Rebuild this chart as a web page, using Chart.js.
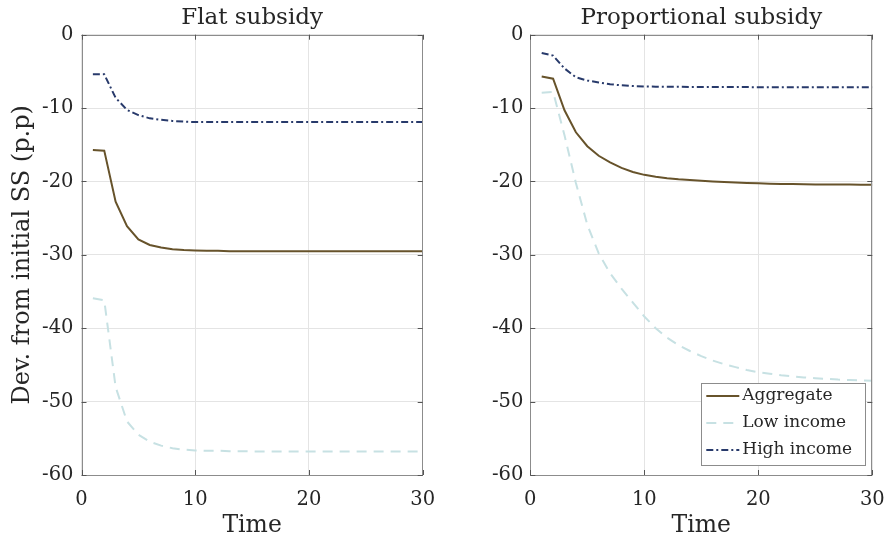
<!DOCTYPE html>
<html><head><meta charset="utf-8">
<script src="https://cdn.jsdelivr.net/npm/chart.js@4.4.0/dist/chart.umd.min.js"></script>
<style>
html,body{margin:0;padding:0;background:#fff;}
#wrap{position:relative;width:886px;height:540px;overflow:hidden;}
.box{position:absolute;top:0;height:540px;}
</style></head><body>
<div id="wrap">
<div class="box" style="left:0;width:450px"><canvas id="c1" width="450" height="540"></canvas></div>
<div class="box" style="left:450px;width:436px"><canvas id="c2" width="436" height="540"></canvas></div>
</div>
<script>
// ---- data ----
const time = [1,2,3,4,5,6,7,8,9,10,11,12,13,14,15,16,17,18,19,20,21,22,23,24,25,26,27,28,29,30];
const seriesNames = ["Aggregate", "Low income", "High income"];
const panelTitles = ["Flat subsidy", "Proportional subsidy"];
const xTicks = [0, 10, 20, 30];
const yTicks = [0, -10, -20, -30, -40, -50, -60];

const flatAggregate = [-15.7,-15.8,-22.75,-26.1,-27.9,-28.65,-29.0,-29.25,-29.35,-29.4,-29.45,-29.45,-29.5,-29.5,-29.5,-29.5,-29.5,-29.5,-29.5,-29.5,-29.5,-29.5,-29.5,-29.5,-29.5,-29.5,-29.5,-29.5,-29.5,-29.5];
const flatLow = [-35.9,-36.2,-48.0,-52.7,-54.5,-55.45,-56.0,-56.35,-56.55,-56.65,-56.7,-56.7,-56.75,-56.75,-56.8,-56.8,-56.8,-56.8,-56.8,-56.8,-56.8,-56.8,-56.8,-56.8,-56.8,-56.8,-56.8,-56.8,-56.8,-56.8];
const flatHigh = [-5.4,-5.4,-8.6,-10.25,-10.95,-11.4,-11.6,-11.75,-11.85,-11.9,-11.9,-11.9,-11.9,-11.9,-11.9,-11.9,-11.9,-11.9,-11.9,-11.9,-11.9,-11.9,-11.9,-11.9,-11.9,-11.9,-11.9,-11.9,-11.9,-11.9];

const propAggregate = [-5.7,-6.0,-10.3,-13.3,-15.2,-16.5,-17.4,-18.15,-18.7,-19.1,-19.35,-19.55,-19.7,-19.8,-19.9,-20.0,-20.08,-20.15,-20.2,-20.25,-20.3,-20.33,-20.36,-20.38,-20.4,-20.41,-20.42,-20.43,-20.44,-20.45];
const propLow = [-7.9,-7.8,-13.7,-20.2,-25.9,-29.8,-32.5,-34.6,-36.5,-38.4,-40.0,-41.3,-42.3,-43.1,-43.8,-44.4,-44.9,-45.3,-45.7,-46.0,-46.2,-46.4,-46.55,-46.7,-46.8,-46.9,-47.0,-47.05,-47.1,-47.15];
const propHigh = [-2.5,-2.85,-4.6,-5.8,-6.25,-6.5,-6.75,-6.9,-7.0,-7.05,-7.08,-7.1,-7.1,-7.12,-7.12,-7.13,-7.13,-7.14,-7.14,-7.15,-7.15,-7.15,-7.15,-7.15,-7.15,-7.15,-7.15,-7.15,-7.15,-7.15];

// ---- styles ----
const FONT = "'DejaVu Serif', serif";
const colAgg = '#67532b', colLow = '#c7e1e3', colHigh = '#283a6b';
const axisCol = '#8c8c8c', gridCol = '#e4e4e4', textCol = '#262626';

function pts(vals){ return time.map((t,i)=>({x:t, y:vals[i]})); }
function datasets(a,l,h){
  return [
    {label:seriesNames[0], data:pts(a), borderColor:colAgg, borderWidth:2, borderDash:[]},
    {label:seriesNames[1], data:pts(l), borderColor:colLow, borderWidth:2, borderDash:[10,7]},
    {label:seriesNames[2], data:pts(h), borderColor:colHigh, borderWidth:2, borderDash:[7,3,2,3]}
  ];
}

const framePlugin = {
  id:'frame',
  afterDatasetsDraw(chart){
    const {ctx, chartArea:a, scales:{x,y}} = chart;
    ctx.save();
    ctx.strokeStyle = axisCol; ctx.lineWidth = 1;
    ctx.strokeRect(Math.round(a.left)+0.5, Math.round(a.top)+0.5, Math.round(a.right-a.left)-1, Math.round(a.bottom-a.top));
    ctx.strokeStyle = '#555';
    const tl = 5;
    xTicks.forEach(v=>{
      const px = Math.round(x.getPixelForValue(v))+0.5;
      ctx.beginPath(); ctx.moveTo(px,a.bottom); ctx.lineTo(px,a.bottom-tl); ctx.stroke();
      ctx.beginPath(); ctx.moveTo(px,a.top); ctx.lineTo(px,a.top+tl); ctx.stroke();
    });
    yTicks.forEach(v=>{
      const py = Math.round(y.getPixelForValue(v))+0.5;
      ctx.beginPath(); ctx.moveTo(a.left,py); ctx.lineTo(a.left+tl,py); ctx.stroke();
      ctx.beginPath(); ctx.moveTo(a.right,py); ctx.lineTo(a.right-tl,py); ctx.stroke();
    });
    ctx.restore();
  },
  afterDraw(chart){
    if(!chart.options.plugins.frame || !chart.options.plugins.frame.legend) return;
    const {ctx, chartArea:a} = chart;
    const w = 164, h = 82;
    const left = a.right - 7 - w, top = a.bottom - 10 - h;
    ctx.save();
    ctx.fillStyle = '#fff';
    ctx.fillRect(left, top, w, h);
    ctx.strokeStyle = axisCol; ctx.lineWidth = 1;
    ctx.strokeRect(Math.round(left)+0.5, Math.round(top)+0.5, w, h);
    ctx.font = "17px " + FONT;
    ctx.textBaseline = 'middle'; ctx.textAlign = 'left';
    const rows = [13, 40, 67];
    chart.data.datasets.forEach((ds,i)=>{
      const yy = top + rows[i];
      ctx.strokeStyle = ds.borderColor; ctx.lineWidth = ds.borderWidth;
      ctx.setLineDash(ds.borderDash || []);
      ctx.beginPath(); ctx.moveTo(left+5, yy); ctx.lineTo(left+38, yy); ctx.stroke();
      ctx.setLineDash([]);
      ctx.fillStyle = textCol;
      ctx.fillText(ds.label, left+41, yy);
    });
    ctx.restore();
  }
};

function makeChart(id, title, ds, yWidth, rightPad, yTitle, legend){
  return new Chart(document.getElementById(id), {
    type:'line',
    data:{datasets:ds},
    plugins:[framePlugin],
    options:{
      responsive:false, animation:false, devicePixelRatio:1,
      layout:{padding:{left:0,right:rightPad,top:0,bottom:0}},
      elements:{point:{radius:0}, line:{tension:0, borderCapStyle:'butt'}},
      plugins:{
        legend:{display:false}, tooltip:{enabled:false},
        frame:{legend:legend},
        title:{display:true, text:title, color:textCol, fullSize:false,
          font:{family:FONT, size:23, weight:'normal', lineHeight:1.2},
          padding:{top:4, bottom:3.1}}
      },
      scales:{
        x:{type:'linear', min:0, max:30,
          afterBuildTicks(s){ s.ticks = xTicks.map(v=>({value:v})); },
          afterFit(s){ s.height = 65; s.paddingLeft = 0; s.paddingRight = 0; },
          grid:{color:gridCol, drawTicks:false},
          border:{display:false},
          ticks:{color:textCol, padding:13, font:{family:FONT, size:19.5}, maxRotation:0},
          title:{display:true, text:'Time', color:textCol, font:{family:FONT, size:23.5}, padding:{top:0,bottom:0}}
        },
        y:{type:'linear', min:-60, max:0,
          afterBuildTicks(s){ s.ticks = yTicks.map(v=>({value:v})); },
          afterFit(s){ s.width = yWidth; s.paddingTop = 0; s.paddingBottom = 0; },
          grid:{color:gridCol, drawTicks:false},
          border:{display:false},
          ticks:{color:textCol, padding:yTitle?8:7, font:{family:FONT, size:19.5}},
          title:{display:!!yTitle, text:yTitle||'', color:textCol, font:{family:FONT, size:24}, padding:{top:8,bottom:0}}
        }
      }
    }
  });
}

makeChart('c1', panelTitles[0], datasets(flatAggregate, flatLow, flatHigh), 81.5, 27.3, 'Dev. from initial SS (p.p)', false);
makeChart('c2', panelTitles[1], datasets(propAggregate, propLow, propHigh), 80.3, 13.7, null, true);
</script>
</body></html>
